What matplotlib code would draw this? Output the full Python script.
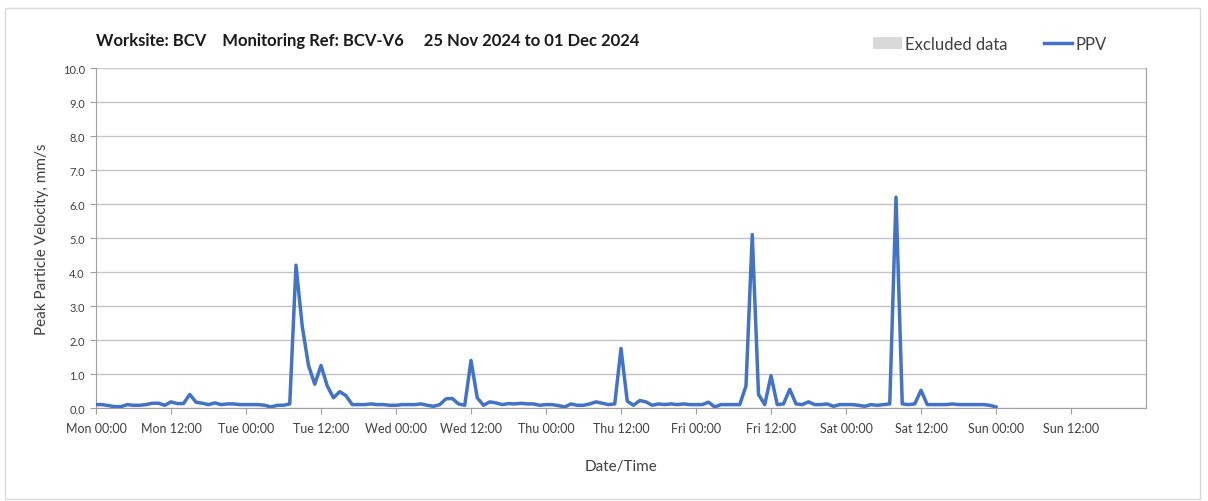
import numpy as np
import matplotlib
matplotlib.use("Agg")
import matplotlib.pyplot as plt
from matplotlib.patches import Patch, Rectangle
from matplotlib.lines import Line2D

plt.rcParams['font.family'] = ['Lato', 'DejaVu Sans']

# hourly PPV readings, Mon 00:00 -> Sun 00:00 (mm/s)
mon = [0.10, 0.10, 0.07, 0.04, 0.04, 0.10, 0.08, 0.08, 0.10, 0.14, 0.14, 0.08,
       0.18, 0.13, 0.13, 0.40, 0.17, 0.14, 0.10, 0.15, 0.10, 0.12, 0.12, 0.10]
tue = [0.10, 0.10, 0.10, 0.08, 0.03, 0.08, 0.08, 0.12, 4.20, 2.40, 1.25, 0.70,
       1.25, 0.65, 0.30, 0.48, 0.36, 0.10, 0.10, 0.10, 0.12, 0.10, 0.10, 0.08]
wed = [0.08, 0.10, 0.10, 0.10, 0.12, 0.08, 0.05, 0.10, 0.27, 0.28, 0.12, 0.08,
       1.40, 0.30, 0.08, 0.18, 0.15, 0.10, 0.13, 0.12, 0.14, 0.12, 0.12, 0.08]
thu = [0.10, 0.10, 0.07, 0.03, 0.12, 0.08, 0.08, 0.12, 0.18, 0.14, 0.10, 0.12,
       1.75, 0.20, 0.08, 0.22, 0.18, 0.08, 0.12, 0.10, 0.12, 0.10, 0.12, 0.10]
fri = [0.10, 0.10, 0.17, 0.03, 0.10, 0.10, 0.10, 0.10, 0.65, 5.10, 0.40, 0.10,
       0.95, 0.10, 0.12, 0.55, 0.12, 0.10, 0.18, 0.10, 0.10, 0.12, 0.05, 0.10]
sat = [0.10, 0.10, 0.08, 0.05, 0.10, 0.08, 0.10, 0.12, 6.20, 0.12, 0.10, 0.12,
       0.52, 0.10, 0.10, 0.10, 0.10, 0.12, 0.10, 0.10, 0.10, 0.10, 0.10, 0.08]
sun = [0.03]

ppv = np.array(mon + tue + wed + thu + fri + sat + sun)
hours = np.arange(len(ppv))

tick_labels = ['Mon 00:00', 'Mon 12:00', 'Tue 00:00', 'Tue 12:00', 'Wed 00:00',
               'Wed 12:00', 'Thu 00:00', 'Thu 12:00', 'Fri 00:00', 'Fri 12:00',
               'Sat 00:00', 'Sat 12:00', 'Sun 00:00', 'Sun 12:00']

fig = plt.figure(figsize=(12.08, 5.02), dpi=100)
fig.patches.append(Rectangle((5 / 1208, 2 / 502), 1195 / 1208, 491 / 502,
                             transform=fig.transFigure, fill=False,
                             edgecolor='#d9d9d9', linewidth=1))
ax = fig.add_axes([96 / 1208, 1 - 409 / 502, 1050 / 1208, 340 / 502])

ax.plot(hours, ppv, color='#4472C4', linewidth=2.5, solid_joinstyle='round', zorder=3)

ax.set_xlim(0, 168)
ax.set_ylim(0, 10)
ax.set_xticks(np.arange(0, 168, 12))
ax.set_xticklabels(tick_labels, fontsize=9, color='#404040')
ax.set_xticks(np.arange(0, 169, 24), minor=True)
ax.set_yticks(np.arange(0, 10.1, 1))
ax.set_yticklabels(['%.1f' % v for v in np.arange(0, 10.1, 1)], fontsize=8, color='#404040')

ax.grid(axis='y', color='#c4c4c4', linewidth=1)
ax.grid(axis='x', which='minor', color='#dcdcdc', linewidth=1)
ax.tick_params(axis='x', which='major', length=4, color='#a0a0a0', pad=6)
ax.tick_params(axis='x', which='minor', length=0)
ax.tick_params(axis='y', length=4, color='#a0a0a0', pad=4)
for side in ['left', 'bottom', 'right']:
    ax.spines[side].set_color('#a0a0a0')
ax.spines['top'].set_visible(False)

ax.set_ylabel('Peak Particle Velocity, mm/s', fontsize=11, color='#404040', labelpad=10)
ax.set_xlabel('Date/Time', fontsize=11, color='#404040', labelpad=18)

fig.text(96 / 1208, 1 - 41 / 502,
         'Worksite: BCV    Monitoring Ref: BCV-V6     25 Nov 2024 to 01 Dec 2024',
         fontsize=12, fontweight='bold', color='#1a1a1a', va='center')

handles = [Patch(facecolor='#d9d9d9', edgecolor='none', label='Excluded data'),
           Line2D([0], [0], color='#4472C4', linewidth=2.5, label='PPV')]
fig.legend(handles=handles, loc='center right', bbox_to_anchor=(1122 / 1208, 1 - 45 / 502),
           ncol=2, frameon=False, fontsize=12, handlelength=1.7, handletextpad=0.2,
           columnspacing=2.2, labelcolor='#404040')

fig.savefig('out.png', dpi=100)
